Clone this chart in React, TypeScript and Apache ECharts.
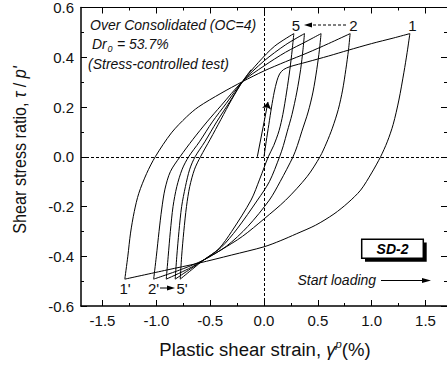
import React, { useEffect, useRef } from "react";
import * as echarts from "echarts";

const xMajorTicks = [-1.5, -1.0, -0.5, 0, 0.5, 1.0, 1.5];
const xMinorTicks = [-1.25, -0.75, -0.25, 0.25, 0.75, 1.25];
const yMajorTicks = [-0.6, -0.4, -0.2, 0, 0.2, 0.4, 0.6];
const yMinorTicks = [-0.5, -0.3, -0.1, 0.1, 0.3, 0.5];

const initialLoading = [[0.0, 0.0], [0.02, 0.06], [0.045, 0.13], [0.07, 0.2], [0.095, 0.26], [0.12, 0.305], [0.145, 0.333], [0.18, 0.35], [0.24, 0.362], [0.4, 0.381], [0.6, 0.405], [0.78, 0.428], [1.0, 0.455], [1.2, 0.477], [1.355, 0.495]];

const unload1 = [[1.355, 0.495], [1.33, 0.42], [1.3, 0.34], [1.253, 0.228], [1.2, 0.13], [1.145, 0.06], [1.083, 0.0], [1.0, -0.065], [0.898, -0.134], [0.78, -0.185], [0.65, -0.23], [0.48, -0.275], [0.3, -0.31], [0.15, -0.338], [0.0, -0.362], [-0.3, -0.395], [-0.61, -0.428], [-0.9, -0.455], [-1.293, -0.492]];
const unload2 = [[0.8, 0.495], [0.785, 0.43], [0.76, 0.35], [0.73, 0.268], [0.69, 0.19], [0.635, 0.115], [0.58, 0.055], [0.52, 0.0], [0.4, -0.08], [0.2, -0.175], [0.0, -0.25], [-0.2, -0.32], [-0.4, -0.375], [-0.56, -0.415], [-0.75, -0.45], [-1.025, -0.492]];
const unload3 = [[0.53, 0.495], [0.515, 0.43], [0.49, 0.35], [0.455, 0.26], [0.41, 0.18], [0.35, 0.1], [0.31, 0.045], [0.27, 0.0], [0.15, -0.1], [0.05, -0.174], [-0.15, -0.28], [-0.35, -0.36], [-0.56, -0.415], [-0.7, -0.45], [-0.908, -0.492]];
const unload4 = [[0.376, 0.495], [0.362, 0.43], [0.34, 0.35], [0.305, 0.26], [0.26, 0.17], [0.215, 0.1], [0.18, 0.045], [0.145, 0.0], [0.05, -0.1], [-0.06, -0.174], [-0.25, -0.29], [-0.4, -0.365], [-0.56, -0.415], [-0.68, -0.45], [-0.825, -0.492]];
const unload5 = [[0.277, 0.495], [0.262, 0.43], [0.24, 0.35], [0.21, 0.26], [0.175, 0.17], [0.14, 0.105], [0.09, 0.045], [0.04, 0.0], [-0.04, -0.09], [-0.12, -0.174], [-0.3, -0.3], [-0.42, -0.37], [-0.56, -0.415], [-0.66, -0.45], [-0.778, -0.492]];

const reload1 = [[-1.293, -0.492], [-1.265, -0.4], [-1.24, -0.307], [-1.205, -0.22], [-1.163, -0.147], [-1.09, -0.067], [-1.01, 0.0], [-0.86, 0.096], [-0.72, 0.16], [-0.61, 0.2], [-0.4, 0.255], [-0.2, 0.302], [0.0, 0.345], [0.2, 0.382], [0.4, 0.417], [0.6, 0.455], [0.8, 0.495]];
const reload2 = [[-1.025, -0.492], [-1.0, -0.4], [-0.975, -0.3], [-0.95, -0.21], [-0.92, -0.13], [-0.87, -0.06], [-0.78, 0.0], [-0.66, 0.07], [-0.53, 0.14], [-0.4, 0.205], [-0.2, 0.302], [0.0, 0.365], [0.2, 0.42], [0.4, 0.465], [0.53, 0.495]];
const reload3 = [[-0.908, -0.492], [-0.89, -0.4], [-0.87, -0.3], [-0.845, -0.2], [-0.81, -0.12], [-0.76, -0.05], [-0.7, 0.0], [-0.6, 0.06], [-0.48, 0.14], [-0.35, 0.215], [-0.2, 0.302], [0.0, 0.385], [0.2, 0.45], [0.376, 0.495]];
const reload4 = [[-0.825, -0.492], [-0.81, -0.4], [-0.79, -0.3], [-0.765, -0.2], [-0.73, -0.12], [-0.69, -0.05], [-0.64, 0.0], [-0.55, 0.06], [-0.44, 0.14], [-0.32, 0.22], [-0.2, 0.302], [-0.05, 0.38], [0.1, 0.445], [0.277, 0.495]];
const reload5 = [[-0.778, -0.492], [-0.765, -0.4], [-0.745, -0.3], [-0.72, -0.2], [-0.69, -0.12], [-0.645, -0.05], [-0.59, 0.0], [-0.5, 0.07], [-0.4, 0.15], [-0.3, 0.23], [-0.2, 0.302], [-0.12, 0.35]];

const branches = [initialLoading, unload1, reload1, unload2, reload2, unload3, reload3, unload4, reload4, unload5, reload5];
const loadingArrow = [[-0.062, 0.0], [0.037, 0.22]];

const FONT = "Liberation Sans, Arial, sans-serif";

export default function App() {
  const ref = useRef<HTMLDivElement>(null);
  useEffect(() => {
    if (!ref.current) return;
    const chart = echarts.init(ref.current, null, { renderer: "svg" });
    const fmt = (v: number) => v.toFixed(1);
    const baseX = (pos: string, major: boolean, labels: boolean) => ({
      type: "value",
      position: pos,
      min: -1.7,
      max: 1.7,
      axisLine: { show: major, onZero: false, lineStyle: { color: "#000", width: pos === "bottom" ? 1.5 : 1 } },
      axisTick: { show: true, inside: true, length: major ? 6 : 3, customValues: major ? xMajorTicks : xMinorTicks, lineStyle: { color: "#000", width: 1 } },
      axisLabel: labels
        ? { show: true, customValues: xMajorTicks, formatter: fmt, fontSize: 15, fontFamily: FONT, color: "#111", margin: 7 }
        : { show: false },
      splitLine: { show: false },
    });
    const baseY = (pos: string, major: boolean, labels: boolean) => ({
      type: "value",
      position: pos,
      min: -0.6,
      max: 0.6,
      axisLine: { show: major, onZero: false, lineStyle: { color: "#000", width: pos === "left" ? 1.5 : 1 } },
      axisTick: { show: true, inside: true, length: major ? 6 : 3, customValues: major ? yMajorTicks : yMinorTicks, lineStyle: { color: "#000", width: 1 } },
      axisLabel: labels
        ? { show: true, customValues: yMajorTicks, formatter: fmt, fontSize: 15, fontFamily: FONT, color: "#111", margin: 7 }
        : { show: false },
      splitLine: { show: false },
    });

    const series: any[] = branches.map((d) => ({
      type: "line",
      data: d,
      showSymbol: false,
      smooth: 0.3,
      silent: true,
      lineStyle: { color: "#000", width: 1 },
    }));
    series.push({
      type: "line",
      data: [],
      silent: true,
      markLine: {
        silent: true,
        symbol: "none",
        label: { show: false },
        lineStyle: { color: "#000", width: 1, type: [3, 2] },
        data: [{ xAxis: 0 }, { yAxis: 0 }],
      },
    });
    series.push({
      type: "line",
      data: [],
      silent: true,
      markLine: {
        silent: true,
        symbol: ["none", "arrow"],
        symbolSize: 7,
        label: { show: false },
        lineStyle: { color: "#000", width: 1, type: "solid" },
        data: [[{ coord: loadingArrow[0] }, { coord: loadingArrow[1] }]],
      },
    });

    const italic14 = { fontFamily: FONT, fontSize: 14, fontStyle: "italic", fill: "#111" };
    const reg15 = { fontFamily: FONT, fontSize: 15, fill: "#111" };

    chart.setOption({
      animation: false,
      grid: { left: 81, right: -3, top: 7, bottom: 60, containLabel: false },
      xAxis: [baseX("bottom", true, true), baseX("bottom", false, false), baseX("top", true, false), baseX("top", false, false)],
      yAxis: [baseY("left", true, true), baseY("left", false, false), baseY("right", true, false), baseY("right", false, false)],
      series,
      graphic: [
        { type: "text", x: 90, y: 25, style: { ...italic14, text: "Over Consolidated (OC=4)", verticalAlign: "middle" } },
        { type: "text", x: 92, y: 44, style: { ...italic14, text: "Dr", verticalAlign: "middle" } },
        { type: "text", x: 107.5, y: 48.5, style: { ...italic14, fontSize: 9, text: "0", verticalAlign: "middle" } },
        { type: "text", x: 113, y: 44, style: { ...italic14, text: " = 53.7%", verticalAlign: "middle" } },
        { type: "text", x: 88, y: 64, style: { ...italic14, text: "(Stress-controlled test)", verticalAlign: "middle" } },

        { type: "text", x: 296, y: 25, style: { ...reg15, text: "5", align: "center", verticalAlign: "middle" } },
        { type: "text", x: 353.5, y: 25, style: { ...reg15, text: "2", align: "center", verticalAlign: "middle" } },
        { type: "text", x: 412.5, y: 25, style: { ...reg15, text: "1", align: "center", verticalAlign: "middle" } },
        { type: "line", shape: { x1: 346, y1: 25, x2: 310, y2: 25 }, style: { stroke: "#000", lineWidth: 1, lineDash: [3, 2] } },
        { type: "polygon", shape: { points: [[304, 25], [312, 22.5], [312, 27.5]] }, style: { fill: "#000" } },

        { type: "text", x: 125, y: 288, style: { ...reg15, text: "1'", align: "center", verticalAlign: "middle" } },
        { type: "text", x: 153.5, y: 288, style: { ...reg15, text: "2'", align: "center", verticalAlign: "middle" } },
        { type: "text", x: 182, y: 288, style: { ...reg15, text: "5'", align: "center", verticalAlign: "middle" } },
        { type: "line", shape: { x1: 160, y1: 288, x2: 168, y2: 288 }, style: { stroke: "#000", lineWidth: 1 } },
        { type: "polygon", shape: { points: [[175, 288], [167, 285.5], [167, 290.5]] }, style: { fill: "#000" } },

        { type: "rect", shape: { x: 365, y: 242.5, width: 61.7, height: 19.2 }, style: { fill: "#000" } },
        { type: "rect", shape: { x: 361.7, y: 239.3, width: 61.6, height: 19 }, style: { fill: "#fff", stroke: "#000", lineWidth: 1.5 } },
        { type: "text", x: 392.5, y: 249, style: { fontFamily: FONT, fontSize: 14, fontStyle: "italic", fontWeight: "bold", fill: "#000", text: "SD-2", align: "center", verticalAlign: "middle" } },

        { type: "text", x: 297.5, y: 280, style: { ...italic14, text: "Start loading", verticalAlign: "middle" } },
        { type: "line", shape: { x1: 381, y1: 280.5, x2: 424, y2: 280.5 }, style: { stroke: "#000", lineWidth: 1 } },
        { type: "polygon", shape: { points: [[431, 280.5], [422, 278], [422, 283]] }, style: { fill: "#000" } },

        {
          type: "text",
          x: 265,
          y: 350,
          scaleX: 1.03,
          style: {
            text: "{n|Plastic shear strain, }{g|γ}{s|p}{n|(%)}",
            align: "center",
            verticalAlign: "middle",
            rich: {
              n: { fontFamily: FONT, fontSize: 18, fill: "#111", lineHeight: 22 },
              g: { fontFamily: FONT, fontSize: 18, fontStyle: "italic", fill: "#111", lineHeight: 22 },
              s: { fontFamily: FONT, fontSize: 11, fontStyle: "italic", fill: "#111", lineHeight: 13, verticalAlign: "top" },
            },
          },
        },
        {
          type: "text",
          x: 20,
          y: 150,
          rotation: Math.PI / 2,
          scaleX: 0.9,
          style: {
            text: "{n|Shear stress ratio, }{i|τ}{n| / }{i|p'}",
            align: "center",
            verticalAlign: "middle",
            rich: {
              n: { fontFamily: FONT, fontSize: 18, fill: "#111" },
              i: { fontFamily: FONT, fontSize: 18, fontStyle: "italic", fill: "#111" },
            },
          },
        },
      ],
    });
    return () => chart.dispose();
  }, []);
  return <div ref={ref} style={{ width: 447, height: 366, position: "absolute", left: 0, top: 0 }} />;
}
